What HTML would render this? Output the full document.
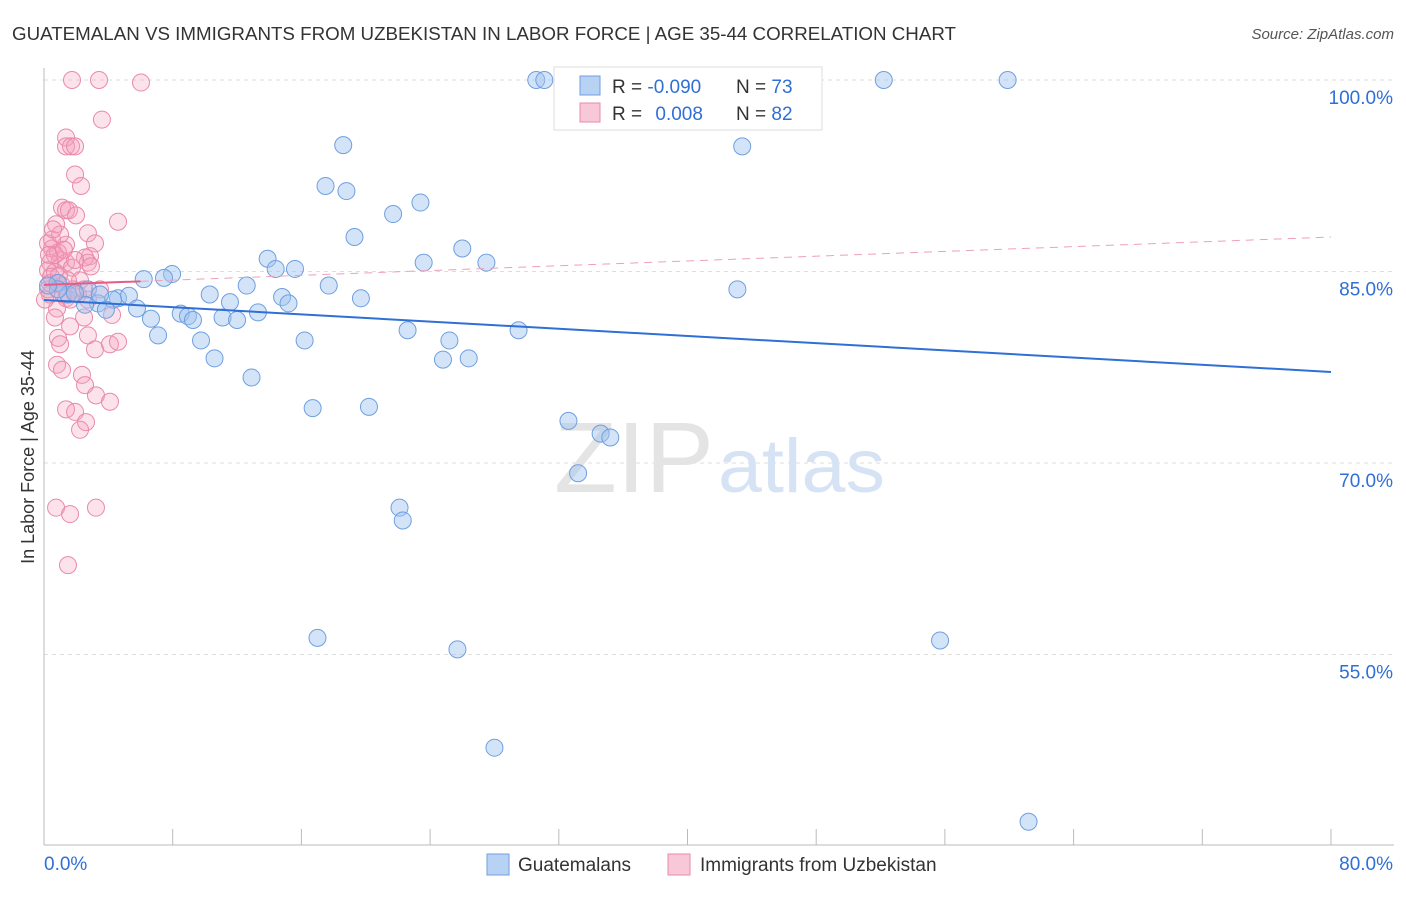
<!DOCTYPE html>
<html><head><meta charset="utf-8"><style>
body{margin:0;background:#fff;font-family:"Liberation Sans",sans-serif;}
svg text{font-family:"Liberation Sans",sans-serif;}
</style></head><body>
<svg id="c" width="1406" height="892" xmlns="http://www.w3.org/2000/svg">
<text x="12" y="40" font-size="18" fill="#333" textLength="944" lengthAdjust="spacingAndGlyphs">GUATEMALAN VS IMMIGRANTS FROM UZBEKISTAN IN LABOR FORCE | AGE 35-44 CORRELATION CHART</text>
<text x="1394" y="39" font-size="15" fill="#555" font-style="italic" text-anchor="end">Source: ZipAtlas.com</text>
<text transform="translate(34,457) rotate(-90)" font-size="18" fill="#333" text-anchor="middle">In Labor Force | Age 35-44</text>
<g id="grid"></g>
<text x="714" y="492" font-size="100" fill="#e4e4e4" text-anchor="end" font-family="Liberation Serif" textLength="160" lengthAdjust="spacingAndGlyphs">ZIP</text>
<text x="718" y="492" font-size="76" fill="#d6e3f5" textLength="167" lengthAdjust="spacingAndGlyphs">atlas</text>
<g id="pts"></g>
<g id="lines"></g>
<g>
<rect x="554" y="67" width="268" height="63" fill="#fff" stroke="#ddd"/>
<rect x="580" y="76" width="20" height="19" fill="#b8d2f4" stroke="#6f9fe0"/>
<rect x="580" y="103" width="20" height="19" fill="#f8c8d8" stroke="#e98aa8"/>
<text x="612" y="93" font-size="19" fill="#333">R = <tspan fill="#2f6fd6">-0.090</tspan></text>
<text x="736" y="93" font-size="19" fill="#333">N = <tspan fill="#2f6fd6">73</tspan></text>
<text x="612" y="120" font-size="19" fill="#333">R = <tspan fill="#2f6fd6" dx="8">0.008</tspan></text>
<text x="736" y="120" font-size="19" fill="#333">N = <tspan fill="#2f6fd6">82</tspan></text>
</g>
<g>
<rect x="487" y="854" width="22" height="21" fill="#b8d2f4" stroke="#6f9fe0"/>
<text x="518" y="871" font-size="19" fill="#333">Guatemalans</text>
<rect x="668" y="854" width="22" height="21" fill="#f8c8d8" stroke="#e98aa8"/>
<text x="700" y="871" font-size="19" fill="#333">Immigrants from Uzbekistan</text>
</g>
</svg>
<script>
const yTicks=[100,85,70,55];
const xTickCount=10;
const xLabels=["0.0%","80.0%"];
const blueX=[30.6,31.1,38.1,52.2,59.9,18.6,43.4,17.5,18.8,23.4,21.7,19.3,26.0,13.9,23.6,27.5,14.4,15.6,7.96,7.46,6.2,12.6,17.7,43.1,10.3,14.8,19.7,2.73,0.87,1.49,4.6,5.28,3.36,4.29,2.55,3.85,5.78,11.56,15.2,8.5,8.95,9.26,6.65,13.3,11.1,12.0,22.6,29.5,7.09,9.76,16.2,25.2,10.6,24.8,26.4,12.9,16.7,20.2,32.6,34.6,35.2,33.2,22.1,22.3,17.0,25.7,55.7,28.0,61.2,0.87,1.93,0.25,3.48];
const blueY=[100,100,100,100,100,94.9,94.8,91.7,91.3,90.4,89.5,87.7,86.8,86.0,85.7,85.7,85.2,85.2,84.8,84.5,84.4,83.9,83.9,83.6,83.2,83.0,82.9,83.6,84.1,83.2,82.9,83.1,82.5,82.8,82.4,82.0,82.1,82.6,82.5,81.7,81.5,81.2,81.3,81.8,81.4,81.2,80.4,80.4,80.0,79.6,79.6,79.6,78.2,78.1,78.2,76.7,74.3,74.4,73.3,72.3,72.0,69.2,66.5,65.5,56.3,55.4,56.1,47.7,41.9,83.6,83.3,83.9,83.2];
const pinkX=[1.74,3.42,6.03,3.6,1.37,1.37,1.68,1.93,1.93,2.3,1.12,1.37,1.55,1.99,0.75,4.6,2.73,0.25,1.37,3.17,0.5,0.87,2.86,1.0,0.37,2.55,2.73,1.37,0.25,0.68,2.24,0.37,0.81,1.12,1.8,2.49,0.37,1.37,1.62,0.81,4.23,0.68,2.49,1.62,2.73,0.87,1.0,3.17,4.1,4.6,0.81,1.12,2.36,2.55,3.23,4.1,1.37,1.93,2.61,2.24,0.75,1.62,3.23,1.49,0.25,0.68,0.5,1.0,0.31,1.18,2.11,1.74,1.49,0.44,0.93,2.73,0.06,3.48,1.93,1.24,0.56,2.92];
const pinkY=[100,100,99.8,96.9,95.5,94.8,94.8,94.8,92.6,91.7,90.0,89.8,89.8,89.4,88.7,88.9,88.0,87.2,87.1,87.2,86.8,86.5,86.2,85.9,85.7,86.1,85.7,85.7,85.1,84.96,84.3,84.1,84.1,83.9,83.6,83.6,83.2,82.9,82.8,82.1,81.6,81.4,81.4,80.7,80.0,79.8,79.3,78.9,79.3,79.5,77.7,77.3,76.9,76.1,75.3,74.8,74.2,74.0,73.2,72.6,66.5,66.0,66.5,62.0,83.6,86.3,87.5,87.9,86.3,83.2,83.2,85.3,84.3,84.6,84.7,82.8,82.8,83.6,85.9,86.7,88.3,85.4];
const blueTrend=[82.77,77.13];
const pinkTrend=[83.95,87.7];
const pinkSolidEnd=6.0;
const X=v=>44+v*(1287/80);
const Y=v=>80+(100-v)*(191.5/15);
const NS="http://www.w3.org/2000/svg";
function mk(t,a,p){const e=document.createElementNS(NS,t);for(const k in a)e.setAttribute(k,a[k]);p.appendChild(e);return e;}
const g=document.getElementById('grid');
yTicks.forEach(t=>{
 const l=mk('line',{x1:44,x2:1394,y1:Y(t),y2:Y(t),stroke:'#ddd','stroke-dasharray':'4,4'},g);
 
 
 const tx=mk('text',{x:1393,y:Y(t)+24,'font-size':19,fill:'#2f6fd6','text-anchor':'end'},g);
 tx.textContent=t.toFixed(1)+'%';
 
 
});
const ax=mk('line',{x1:44,x2:44,y1:68,y2:845,stroke:'#bbb'},g);


const bx=mk('line',{x1:44,x2:1394,y1:845,y2:845,stroke:'#bbb'},g);


for(let i=0;i<=xTickCount;i++){
 const x=X(i*8);
 const t=mk('line',{x1:x,x2:x,y1:829,y2:845,stroke:'#bbb'},g);
 
 
}
const l0=mk('text',{x:44,y:870,'font-size':19,fill:'#2f6fd6'},g);l0.textContent=xLabels[0];


const l1=mk('text',{x:1393,y:870,'font-size':19,fill:'#2f6fd6','text-anchor':'end'},g);l1.textContent=xLabels[1];


const P=document.getElementById('pts');
pinkX.forEach((v,i)=>{
 const c=mk('circle',{cx:X(v),cy:Y(pinkY[i]),r:8.5,fill:'rgba(244,160,190,0.3)',stroke:'#e98aa8','stroke-width':1},P);
 
 
});
blueX.forEach((v,i)=>{
 const c=mk('circle',{cx:X(v),cy:Y(blueY[i]),r:8.5,fill:'rgba(160,196,240,0.45)',stroke:'#6f9fe0','stroke-width':1},P);
 
 
});
const L=document.getElementById('lines');
const bl=mk('line',{x1:X(0),y1:Y(blueTrend[0]),x2:X(80),y2:Y(blueTrend[1]),stroke:'#2f6fd6','stroke-width':2},L);


const pm=pinkTrend[0]+(pinkTrend[1]-pinkTrend[0])*pinkSolidEnd/80;
const ps=mk('line',{x1:X(0),y1:Y(pinkTrend[0]),x2:X(pinkSolidEnd),y2:Y(pm),stroke:'#e35d86','stroke-width':2},L);


const pd=mk('line',{x1:X(pinkSolidEnd),y1:Y(pm),x2:X(80),y2:Y(pinkTrend[1]),stroke:'#eea0b8','stroke-width':1,'stroke-dasharray':'8,6'},L);


</script>
</body></html>
